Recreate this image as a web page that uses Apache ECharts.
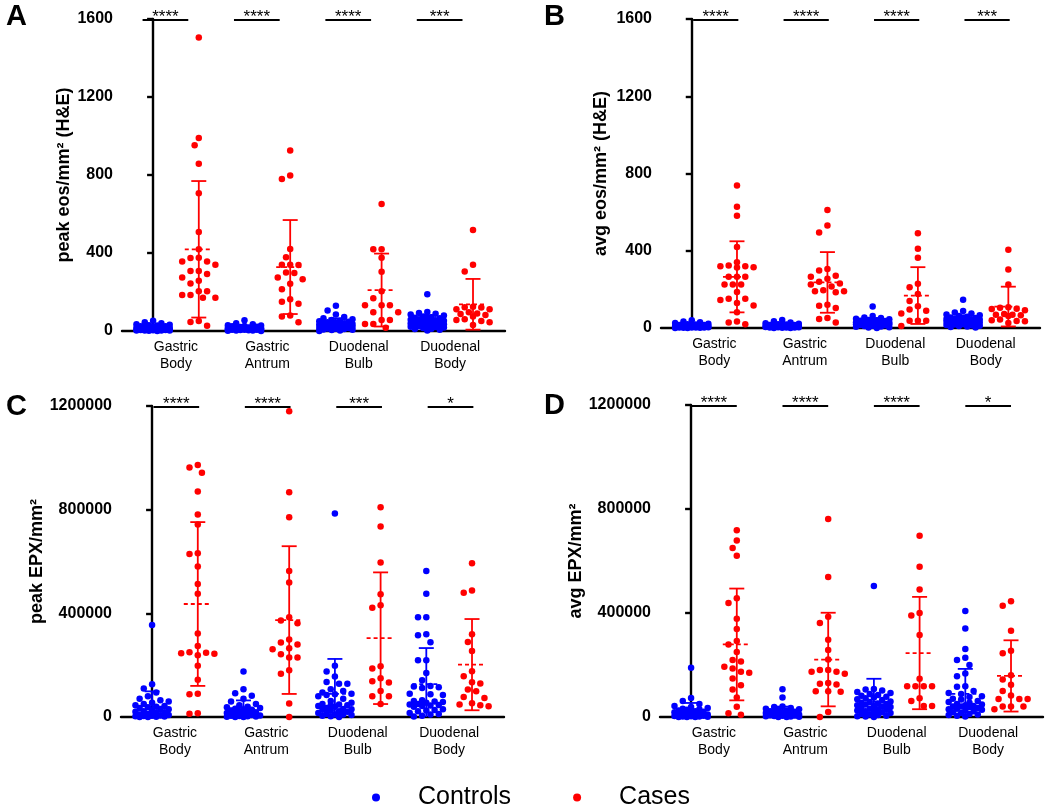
<!DOCTYPE html>
<html><head><meta charset="utf-8">
<script src="https://cdn.jsdelivr.net/npm/echarts@6/dist/echarts.min.js"></script>
<style>html,body{margin:0;padding:0;background:#fff}#c{width:1050px;height:810px}</style>
</head><body><div id="c"></div>
<script>
// ---------------- DATA ----------------
const categories = ['Gastric\nBody', 'Gastric\nAntrum', 'Duodenal\nBulb', 'Duodenal\nBody'];
const seriesNames = ['Controls', 'Cases'];
const panelLetters = ['A', 'B', 'C', 'D'];
const yTitles = ['peak eos/mm² (H&E)', 'avg eos/mm² (H&E)', 'peak EPX/mm²', 'avg EPX/mm²'];
const eosTicks = [0, 400, 800, 1200, 1600];
const epxTicks = [0, 400000, 800000, 1200000];

// Panel A: peak eos/mm2 (H&E)
const peakEosControls = [
  [52, 45, 40, 35, 32, 30, 28, 25, 24, 22, 20, 20, 18, 16, 15, 14, 12, 12, 10, 10, 9, 8, 8, 7, 6, 5, 5, 4, 3, 3, 2, 2, 1, 0],
  [55, 40, 34, 30, 28, 26, 24, 22, 20, 18, 18, 16, 15, 14, 13, 12, 12, 11, 10, 10, 9, 8, 8, 7, 6, 6, 5, 4, 3, 2, 1, 0],
  [130, 105, 85, 72, 65, 60, 56, 52, 50, 48, 45, 42, 40, 38, 36, 35, 33, 32, 30, 28, 27, 25, 24, 22, 20, 18, 16, 15, 13, 12, 10, 8, 6, 5, 3, 0],
  [188, 98, 92, 88, 85, 80, 75, 70, 68, 65, 62, 60, 58, 55, 52, 50, 48, 46, 45, 42, 40, 38, 36, 35, 34, 32, 30, 28, 26, 24, 22, 20, 18, 15, 12, 10, 6, 3]
];
const peakEosCases = [
  [1505, 990, 952, 858, 706, 508, 419, 376, 374, 357, 357, 340, 308, 308, 292, 275, 258, 243, 204, 204, 185, 185, 170, 170, 51, 46, 27],
  [926, 797, 779, 420, 378, 340, 340, 338, 300, 297, 275, 265, 242, 214, 163, 150, 140, 80, 75, 45],
  [651, 419, 419, 376, 304, 204, 168, 132, 132, 132, 96, 96, 56, 56, 36, 36, 17],
  [518, 340, 305, 125, 121, 112, 111, 122, 96, 90, 87, 82, 74, 60, 56, 51, 45, 31]
];
const peakEosCtrlMean = [16, 15, 37, 48];
const peakEosCtrlSD = [13, 12, 28, 33];
const peakEosCaseMean = [419, 328, 210, 137];
const peakEosCaseSD = [350, 241, 187, 130];
const peakEosSig = ['****', '****', '****', '***'];

// Panel B: avg eos/mm2 (H&E)
const avgEosControls = [
  [40, 34, 30, 26, 22, 20, 18, 16, 15, 14, 12, 12, 11, 10, 9, 8, 8, 7, 6, 6, 5, 5, 4, 4, 3, 3, 2, 2, 1, 1, 0, 0],
  [42, 35, 28, 24, 22, 20, 18, 16, 15, 14, 13, 12, 11, 10, 10, 9, 8, 8, 7, 6, 6, 5, 4, 4, 3, 2, 2, 1, 0, 0],
  [111, 62, 55, 52, 48, 45, 42, 40, 38, 36, 35, 34, 32, 30, 29, 28, 27, 26, 25, 24, 22, 21, 20, 19, 18, 16, 15, 14, 12, 10, 8, 6, 4, 2, 0],
  [146, 88, 80, 75, 70, 66, 62, 58, 55, 52, 50, 48, 46, 45, 44, 42, 40, 38, 36, 35, 34, 32, 30, 28, 26, 25, 24, 22, 20, 18, 16, 14, 12, 10, 8, 5, 2]
];
const avgEosCases = [
  [738, 628, 581, 419, 341, 324, 320, 320, 315, 313, 265, 265, 265, 225, 225, 225, 187, 151, 145, 151, 130, 116, 82, 34, 28, 20],
  [611, 531, 495, 305, 298, 270, 265, 255, 240, 230, 225, 215, 195, 190, 185, 190, 120, 115, 103, 52, 46, 28],
  [491, 410, 364, 229, 211, 176, 140, 112, 96, 89, 75, 37, 37, 37, 10],
  [405, 303, 225, 108, 105, 100, 98, 92, 72, 68, 68, 66, 62, 44, 40, 36, 35, 26]
];
const avgEosCtrlMean = [11, 11, 30, 40];
const avgEosCtrlSD = [9, 9, 20, 26];
const avgEosCaseMean = [265, 236, 168, 111];
const avgEosCaseSD = [184, 157, 147, 103];
const avgEosSig = ['****', '****', '****', '***'];

// Panel C: peak EPX/mm2
const peakEpxControls = [
  [355000, 126000, 110000, 95000, 80000, 70000, 65000, 60000, 55000, 50000, 45000, 42000, 40000, 38000, 35000, 30000, 28000, 25000, 22000, 20000, 18000, 15000, 12000, 10000, 8000, 6000, 5000, 4000, 3000, 2000, 1000, 0, 0],
  [176000, 107000, 92000, 82000, 70000, 60000, 50000, 45000, 40000, 38000, 35000, 32000, 30000, 28000, 25000, 22000, 20000, 18000, 15000, 12000, 10000, 8000, 6000, 5000, 4000, 3000, 2000, 1000, 0, 0],
  [785000, 198000, 176000, 156000, 135000, 128000, 128000, 107000, 100000, 95000, 90000, 88000, 85000, 80000, 70000, 62000, 55000, 50000, 48000, 45000, 45000, 42000, 40000, 35000, 31000, 30000, 28000, 25000, 22000, 20000, 15000, 12000, 10000, 10000, 8000, 5000, 3000, 0],
  [563000, 476000, 385000, 385000, 319000, 315000, 288000, 219000, 219000, 170000, 142000, 120000, 118000, 115000, 112000, 90000, 88000, 85000, 65000, 62000, 60000, 58000, 55000, 50000, 48000, 46000, 44000, 42000, 40000, 30000, 27000, 25000, 22000, 15000, 12000, 10000, 5000, 2000]
];
const peakEpxCases = [
  [972000, 963000, 942000, 870000, 781000, 743000, 632000, 629000, 581000, 513000, 476000, 322000, 274000, 250000, 248000, 238000, 246000, 244000, 198000, 144000, 90000, 88000, 13000, 14000],
  [1180000, 867000, 771000, 563000, 519000, 385000, 372000, 362000, 299000, 287000, 280000, 265000, 261000, 242000, 230000, 230000, 180000, 167000, 52000, 0],
  [809000, 735000, 596000, 474000, 431000, 422000, 196000, 187000, 150000, 138000, 133000, 100000, 80000, 80000, 50000],
  [593000, 488000, 479000, 319000, 289000, 255000, 177000, 157000, 134000, 129000, 106000, 99000, 77000, 73000, 53000, 48000, 45000, 41000]
];
const peakEpxCtrlMean = [40000, 32000, 89000, 127000];
const peakEpxCtrlSD = [59000, 32000, 135000, 139000];
const peakEpxCaseMean = [436000, 374000, 304000, 202000];
const peakEpxCaseSD = [316000, 285000, 254000, 176000];
const peakEpxSig = ['****', '****', '***', '*'];

// Panel D: avg EPX/mm2
const avgEpxControls = [
  [189000, 73000, 62000, 50000, 42000, 38000, 35000, 32000, 30000, 28000, 25000, 22000, 20000, 18000, 16000, 15000, 12000, 10000, 8000, 7000, 6000, 5000, 4000, 3000, 2000, 2000, 1000, 0, 0, 0],
  [107000, 75000, 40000, 38000, 35000, 32000, 30000, 28000, 25000, 22000, 20000, 18000, 16000, 15000, 12000, 10000, 9000, 8000, 7000, 6000, 5000, 4000, 3000, 2000, 1000, 0, 0],
  [504000, 108000, 106000, 102000, 96000, 92000, 88000, 85000, 82000, 78000, 75000, 72000, 68000, 65000, 60000, 58000, 55000, 52000, 50000, 48000, 45000, 42000, 40000, 38000, 35000, 32000, 30000, 28000, 25000, 22000, 20000, 18000, 15000, 12000, 10000, 8000, 5000, 3000, 2000, 0],
  [408000, 340000, 262000, 228000, 219000, 200000, 167000, 157000, 118000, 116000, 100000, 92000, 88000, 80000, 77000, 70000, 67000, 62000, 58000, 55000, 50000, 48000, 45000, 42000, 40000, 40000, 38000, 35000, 32000, 30000, 28000, 25000, 22000, 18000, 15000, 12000, 10000, 8000, 5000, 2000]
];
const avgEpxCases = [
  [718000, 679000, 650000, 620000, 457000, 438000, 378000, 338000, 292000, 279000, 250000, 219000, 213000, 193000, 187000, 174000, 170000, 148000, 122000, 106000, 75000, 39000, 9000, 14000],
  [762000, 538000, 386000, 362000, 297000, 258000, 221000, 181000, 174000, 181000, 166000, 174000, 125000, 131000, 128000, 99000, 99000, 97000, 19000, 0],
  [697000, 578000, 490000, 400000, 390000, 315000, 147000, 118000, 118000, 118000, 118000, 72000, 62000, 42000, 42000],
  [445000, 428000, 332000, 255000, 245000, 161000, 144000, 124000, 100000, 83000, 69000, 69000, 69000, 40000, 40000, 40000, 30000]
];
const avgEpxCtrlMean = [23000, 18000, 59000, 89000];
const avgEpxCtrlSD = [31000, 22000, 88000, 96000];
const avgEpxCaseMean = [279000, 221000, 246000, 158000];
const avgEpxCaseSD = [215000, 180000, 216000, 137000];
const avgEpxSig = ['****', '****', '****', '*'];

// ---------------- LAYOUT / STYLE ----------------
const BLUE = '#0000ff', RED = '#ff0000';
const FONT = '"Liberation Sans", Arial, Helvetica, sans-serif';
const XMIN = -0.68, XMAX = 7.70;
const DOT = 6.5;        // dot diameter (px)
const SPACING = 8.3;    // centre-to-centre spacing used when arranging dots (px)

const panels = [
  { grid: { left: 122, top: 19, width: 383, height: 312 }, ticks: eosTicks, nameGap: 49,
    ctrl: peakEosControls, cases: peakEosCases, cm: peakEosCtrlMean, cs: peakEosCtrlSD, km: peakEosCaseMean, ks: peakEosCaseSD, sig: peakEosSig, sigShift: -0.23, letter: [6, 2] },
  { grid: { left: 661, top: 19, width: 379, height: 309 }, ticks: eosTicks, nameGap: 51,
    ctrl: avgEosControls, cases: avgEosCases, cm: avgEosCtrlMean, cs: avgEosCtrlSD, km: avgEosCaseMean, ks: avgEosCaseSD, sig: avgEosSig, sigShift: 0.03, letter: [544, 2] },
  { grid: { left: 121, top: 406, width: 383, height: 311 }, ticks: epxTicks, nameGap: 75,
    ctrl: peakEpxControls, cases: peakEpxCases, cm: peakEpxCtrlMean, cs: peakEpxCtrlSD, km: peakEpxCaseMean, ks: peakEpxCaseSD, sig: peakEpxSig, sigShift: 0.03, letter: [6, 392] },
  { grid: { left: 660, top: 405, width: 383, height: 312 }, ticks: epxTicks, nameGap: 75,
    ctrl: avgEpxControls, cases: avgEpxCases, cm: avgEpxCtrlMean, cs: avgEpxCtrlSD, km: avgEpxCaseMean, ks: avgEpxCaseSD, sig: avgEpxSig, sigShift: 0.0, letter: [544, 391] }
];

// deterministic beeswarm arrangement of dots around a column centre (pixel offsets)
function swarmOffsets(vals, ymax, plotH, spacing, maxPx) {
  const order = vals.map((v, i) => i).sort((a, b) => vals[b] - vals[a]);
  const placed = [];
  const off = new Array(vals.length).fill(0);
  const step = spacing / 2;
  const cands = [0];
  for (let k = 1; k * step <= maxPx; k++) cands.push(-k * step, k * step);
  for (const i of order) {
    const y = vals[i] / ymax * plotH;
    let best = 0, bestScore = -1;
    for (const c of cands) {
      let minD = Infinity;
      for (const p of placed) { const d = Math.hypot(p.x - c, p.y - y); if (d < minD) minD = d; }
      if (minD >= spacing) { best = c; break; }
      if (minD > bestScore) { bestScore = minD; best = c; }
    }
    off[i] = best; placed.push({ x: best, y });
  }
  return off;
}

const grids = [], xAxes = [], yAxes = [], series = [], graphics = [];
panels.forEach((p, k) => {
  const ymax = p.ticks[p.ticks.length - 1];
  const interval = p.ticks[1] - p.ticks[0];
  grids.push(Object.assign({ outerBoundsMode: 'none', containLabel: false }, p.grid));
  const pxPerUnit = p.grid.width / (XMAX - XMIN);
  xAxes.push({
    type: 'value', gridIndex: k, min: XMIN, max: XMAX,
    axisLine: { show: true, onZero: false, lineStyle: { color: '#000', width: 2.4 } },
    axisTick: { show: false }, splitLine: { show: false },
    axisLabel: { customValues: [0.5, 2.5, 4.5, 6.5], formatter: v => categories[Math.round((v - 0.5) / 2)],
      fontSize: 14, lineHeight: 17, color: '#000', margin: 8, fontFamily: FONT }
  });
  yAxes.push({
    type: 'value', gridIndex: k, min: 0, max: ymax, interval: interval,
    axisLine: { show: true, lineStyle: { color: '#000', width: 2.4 } },
    axisTick: { show: true, length: 6, lineStyle: { color: '#000', width: 2.4 } },
    splitLine: { show: false },
    axisLabel: { fontSize: 16, fontWeight: 'bold', color: '#000', margin: 9, fontFamily: FONT, formatter: v => String(v) },
    name: yTitles[k], nameLocation: 'middle', nameGap: p.nameGap, nameRotate: 90,
    nameTextStyle: { fontSize: 18, fontWeight: 'bold', color: '#000', fontFamily: FONT }
  });

  const ctrlData = [], caseData = [];
  p.ctrl.forEach((vals, g) => {
    const off = swarmOffsets(vals, ymax, p.grid.height, SPACING, 16.6);
    vals.forEach((v, i) => ctrlData.push([2 * g + off[i] / pxPerUnit, v]));
  });
  p.cases.forEach((vals, g) => {
    const off = swarmOffsets(vals, ymax, p.grid.height, SPACING, 16.6);
    vals.forEach((v, i) => caseData.push([2 * g + 1 + off[i] / pxPerUnit, v]));
  });

  const errData = [];
  for (let g = 0; g < 4; g++) {
    errData.push([2 * g, p.cm[g], p.cs[g], 0]);
    errData.push([2 * g + 1, p.km[g], p.ks[g], 1]);
  }
  series.push({
    type: 'custom', name: 'err' + k, xAxisIndex: k, yAxisIndex: k, z: 2, data: errData,
    encode: { x: 0, y: 1 }, silent: true,
    renderItem: (params, api) => {
      const x = api.value(0), m = api.value(1), s = api.value(2);
      const col = api.value(3) ? RED : BLUE;
      const c = api.coord([x, m]);
      const top = api.coord([x, m + s]);
      const low = m - s;
      const bot = api.coord([x, Math.max(0, low)]);
      const lw = 1.8;
      const ch = [
        { type: 'line', shape: { x1: c[0], y1: bot[1], x2: c[0], y2: top[1] }, style: { stroke: col, lineWidth: lw } },
        { type: 'line', shape: { x1: c[0] - 7.5, y1: top[1], x2: c[0] + 7.5, y2: top[1] }, style: { stroke: col, lineWidth: lw } },
        { type: 'line', shape: { x1: c[0] - 14, y1: c[1], x2: c[0] + 14, y2: c[1] }, style: { stroke: col, lineWidth: lw, lineDash: [4, 3] } }
      ];
      if (low > 0) ch.push({ type: 'line', shape: { x1: c[0] - 7.5, y1: bot[1], x2: c[0] + 7.5, y2: bot[1] }, style: { stroke: col, lineWidth: lw } });
      return { type: 'group', children: ch };
    }
  });
  series.push({ type: 'scatter', name: 'Controls', xAxisIndex: k, yAxisIndex: k, z: 3, data: ctrlData,
    symbol: 'circle', symbolSize: DOT, itemStyle: { color: BLUE, opacity: 1 }, clip: false });
  series.push({ type: 'scatter', name: 'Cases', xAxisIndex: k, yAxisIndex: k, z: 3, data: caseData,
    symbol: 'circle', symbolSize: DOT, itemStyle: { color: RED, opacity: 1 }, clip: false });

  const sigData = p.sig.map((s, g) => [2 * g, 2 * g + 1, ymax]);
  const sigText = p.sig, shift = p.sigShift;
  series.push({
    type: 'custom', name: 'sig' + k, xAxisIndex: k, yAxisIndex: k, z: 4, data: sigData, silent: true,
    encode: { x: 0, y: 2 },
    renderItem: (params, api) => {
      const a = api.coord([api.value(0) + shift, api.value(2)]);
      const b = api.coord([api.value(1) + shift, api.value(2)]);
      const y = a[1] + 1;
      return { type: 'group', children: [
        { type: 'line', shape: { x1: a[0], y1: y, x2: b[0], y2: y }, style: { stroke: '#000', lineWidth: 2.2 } },
        { type: 'text', style: { text: sigText[params.dataIndex], x: (a[0] + b[0]) / 2, y: y - 3,
          align: 'center', verticalAlign: 'middle', fontSize: 17, fontFamily: FONT, fill: '#000' } }
      ] };
    }
  });

  graphics.push({ type: 'text', left: p.letter[0], top: p.letter[1],
    style: { text: panelLetters[k], fontSize: 29, fontWeight: 'bold', fontFamily: FONT, fill: '#000' } });
});

const chart = echarts.init(document.getElementById('c'), null, { renderer: 'canvas' });
chart.setOption({
  animation: false,
  backgroundColor: '#fff',
  textStyle: { fontFamily: FONT },
  grid: grids, xAxis: xAxes, yAxis: yAxes, series: series, graphic: graphics,
  legend: {
    data: seriesNames, left: 367, top: 780, icon: 'circle', itemWidth: 8, itemHeight: 8, itemGap: 62,
    selectedMode: false,
    textStyle: { fontSize: 25, color: '#000', fontFamily: FONT, padding: [0, 0, 0, 33] }
  }
});
</script></body></html>
